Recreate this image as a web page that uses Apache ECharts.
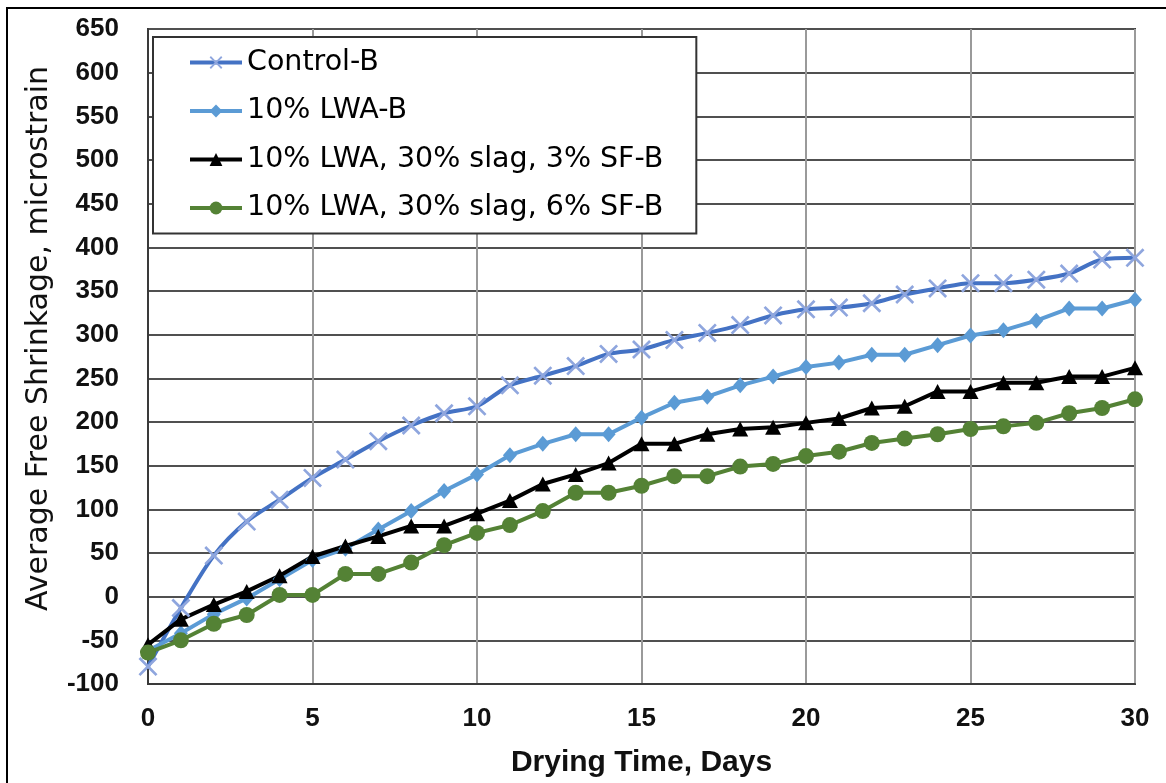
<!DOCTYPE html>
<html>
<head>
<meta charset="utf-8">
<script src="https://cdn.jsdelivr.net/npm/echarts@6/dist/echarts.min.js"></script>
<style>
html,body{margin:0;padding:0;background:#fff;}
#chart{width:1166px;height:783px;}
</style>
</head>
<body>
<div id="chart"></div>
<script>
const days = [0,1,2,3,4,5,6,7,8,9,10,11,12,13,14,15,16,17,18,19,20,21,22,23,24,25,26,27,28,29,30];
const seriesNames = ['Control-B', '10% LWA-B', '10% LWA, 30% slag, 3% SF-B', '10% LWA, 30% slag, 6% SF-B'];
const controlB = [-80,-13,47,86,111,136,157,178,196,210,218,242,253,264,278,283,294,302,311,322,329,331,336,346,353,359,359,363,370,386,388];
const lwaB = [-62,-42,-20,-2,20,42,55,77,98,121,140,162,175,186,186,205,222,229,242,252,263,268,277,277,288,299,305,316,330,330,340];
const sf3B = [-55,-26,-9,6,24,46,58,69,81,81,95,110,129,140,153,175,175,186,192,194,199,204,216,218,235,235,245,245,252,252,262];
const sf6B = [-64,-50,-31,-21,2,2,26,26,39,59,73,82,98,119,119,127,138,138,149,152,161,166,176,181,186,192,195,199,210,216,226];
const xTicks = {min: 0, max: 30, interval: 5};
const yTicks = {min: -100, max: 650, interval: 50};

const pair = (arr) => days.map((d, i) => [d, arr[i]]);
const xPath = 'path://M2,0L10,8L18,0L20,2L12,10L20,18L18,20L10,12L2,20L0,18L8,10L0,2Z';

const chart = echarts.init(document.getElementById('chart'), null, {renderer: 'canvas'});
chart.setOption({
  animation: false,
  backgroundColor: '#fff',
  graphic: [
    {type: 'line', shape: {x1: 7, y1: 8, x2: 7, y2: 790}, style: {stroke: '#000', lineWidth: 2}, z: 100},
    {type: 'line', shape: {x1: 6, y1: 8, x2: 1170, y2: 8}, style: {stroke: '#000', lineWidth: 2}, z: 100}
  ],
  grid: {left: 148, right: 31, top: 29, bottom: 97, show: true, borderColor: '#3a3a3a', borderWidth: 2, backgroundColor: 'transparent'},
  legend: {
    orient: 'vertical',
    left: 153, top: 37,
    itemWidth: 52, itemHeight: 16,
    itemGap: 17.5,
    padding: [10, 33, 10, 35],
    borderColor: '#333', borderWidth: 2,
    backgroundColor: '#fff',
    lineStyle: {width: 4},
    textStyle: {fontFamily: 'DejaVu Sans', fontSize: 28.5, color: '#000', lineHeight: 31},
    data: seriesNames
  },
  xAxis: {
    type: 'value', min: xTicks.min, max: xTicks.max, interval: xTicks.interval,
    name: 'Drying Time, Days', nameLocation: 'middle', nameGap: 64,
    nameTextStyle: {fontFamily: 'Liberation Sans', fontWeight: 'bold', fontSize: 30, color: '#111'},
    axisLine: {show: true, onZero: false, lineStyle: {color: '#3a3a3a', width: 2}},
    axisTick: {show: false},
    axisLabel: {margin: 22, fontFamily: 'Liberation Sans', fontWeight: 'bold', fontSize: 26, color: '#111'},
    splitLine: {show: true, lineStyle: {color: '#9a9a9a', width: 2}}
  },
  yAxis: {
    type: 'value', min: yTicks.min, max: yTicks.max, interval: yTicks.interval,
    name: 'Average Free Shrinkage, microstrain', nameLocation: 'middle', nameGap: 94,
    nameTextStyle: {fontFamily: 'DejaVu Sans', fontSize: 30, color: '#111', padding: [0, 0, 0, 36]},
    axisLine: {show: true, lineStyle: {color: '#3a3a3a', width: 2}},
    axisTick: {show: false},
    axisLabel: {margin: 29, fontFamily: 'Liberation Sans', fontWeight: 'bold', fontSize: 26, color: '#111'},
    splitLine: {show: true, lineStyle: {color: '#505050', width: 2}}
  },
  series: [
    {
      name: seriesNames[0], type: 'line', data: pair(controlB), smooth: 0.3,
      symbol: xPath, symbolSize: 19,
      lineStyle: {color: '#4472C4', width: 4},
      itemStyle: {color: '#8FA6DE'}
    },
    {
      name: seriesNames[1], type: 'line', data: pair(lwaB),
      symbol: 'diamond', symbolSize: [14, 16],
      lineStyle: {color: '#5B9BD5', width: 4},
      itemStyle: {color: '#5B9BD5'}
    },
    {
      name: seriesNames[2], type: 'line', data: pair(sf3B),
      symbol: 'triangle', symbolSize: [16, 15],
      lineStyle: {color: '#000', width: 4},
      itemStyle: {color: '#000'}
    },
    {
      name: seriesNames[3], type: 'line', data: pair(sf6B),
      symbol: 'circle', symbolSize: 16,
      lineStyle: {color: '#548235', width: 4},
      itemStyle: {color: '#548235'}
    }
  ]
});
</script>
</body>
</html>
